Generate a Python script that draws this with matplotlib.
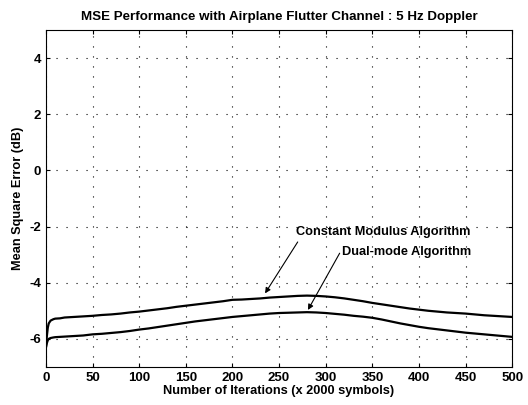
import numpy as np
import matplotlib.pyplot as plt

plt.rcParams['font.family'] = ['Liberation Sans', 'DejaVu Sans']
plt.rcParams['axes.unicode_minus'] = False

# values (iterations, MSE in dB)
iters = [0, 1, 2, 3, 5, 8, 10, 15, 20, 30, 40, 50, 60, 70, 80, 90, 100, 110, 120, 130,
         140, 150, 160, 170, 180, 190, 200, 210, 220, 230, 240, 250, 260, 270, 280,
         290, 300, 310, 320, 330, 340, 350, 360, 370, 380, 390, 400, 410, 420, 430,
         440, 450, 460, 470, 480, 490, 500]
cma = [-6.30, -5.90, -5.60, -5.45, -5.35, -5.30, -5.28, -5.27, -5.24, -5.22, -5.20, -5.18,
       -5.15, -5.13, -5.10, -5.06, -5.03, -4.99, -4.95, -4.91, -4.86, -4.82, -4.78, -4.74,
       -4.70, -4.66, -4.61, -4.60, -4.58, -4.56, -4.53, -4.51, -4.49, -4.47, -4.46,
       -4.47, -4.49, -4.52, -4.56, -4.61, -4.66, -4.72, -4.77, -4.82, -4.87, -4.92,
       -4.96, -5.00, -5.03, -5.06, -5.08, -5.10, -5.13, -5.16, -5.18, -5.20, -5.22]
dma = [-6.30, -6.15, -6.05, -6.00, -5.97, -5.95, -5.94, -5.93, -5.92, -5.90, -5.88, -5.84,
       -5.82, -5.79, -5.76, -5.72, -5.67, -5.63, -5.58, -5.53, -5.48, -5.43, -5.38, -5.34,
       -5.30, -5.26, -5.22, -5.19, -5.16, -5.13, -5.10, -5.08, -5.07, -5.06, -5.05,
       -5.06, -5.08, -5.11, -5.14, -5.18, -5.21, -5.25, -5.31, -5.38, -5.45, -5.51,
       -5.57, -5.62, -5.66, -5.70, -5.74, -5.78, -5.81, -5.84, -5.87, -5.90, -5.93]

fig = plt.figure(figsize=(5.28, 4.05), dpi=100)
ax = fig.add_axes([0.087, 0.094, 0.883, 0.832])

ax.plot(iters, cma, color='black', lw=1.6)
ax.plot(iters, dma, color='black', lw=1.6)

ax.set_xlim(0, 500)
ax.set_ylim(-7, 5)
ax.set_xticks(np.arange(0, 501, 50))
ax.set_yticks([-6, -4, -2, 0, 2, 4])
ax.grid(True, color='black', linestyle=(0, (1, 8)), linewidth=0.8)
ax.tick_params(direction='in', top=True, right=True, length=3, labelsize=9.5)
for lbl in ax.get_xticklabels() + ax.get_yticklabels():
    lbl.set_fontweight('bold')

ax.set_title('MSE Performance with Airplane Flutter Channel : 5 Hz Doppler',
             fontsize=9.6, fontweight='bold', pad=7)
ax.set_xlabel('Number of Iterations (x 2000 symbols)', fontsize=9.2,
              fontweight='bold', labelpad=1)
ax.set_ylabel('Mean Square Error (dB)', fontsize=9.2, fontweight='bold', labelpad=4)

ax.text(362, -2.2, 'Constant Modulus Algorithm', ha='center', va='center',
        fontsize=9.2, fontweight='bold')
ax.text(387, -2.9, 'Dual-mode Algorithm', ha='center', va='center',
        fontsize=9.2, fontweight='bold')
ax.annotate('', xy=(235, -4.38), xytext=(270, -2.55),
            arrowprops=dict(arrowstyle='-|>', color='black', lw=0.8,
                            shrinkA=0, shrinkB=0, mutation_scale=8))
ax.annotate('', xy=(281, -4.97), xytext=(315, -2.95),
            arrowprops=dict(arrowstyle='-|>', color='black', lw=0.8,
                            shrinkA=0, shrinkB=0, mutation_scale=8))

fig.savefig('out.png', dpi=100)
